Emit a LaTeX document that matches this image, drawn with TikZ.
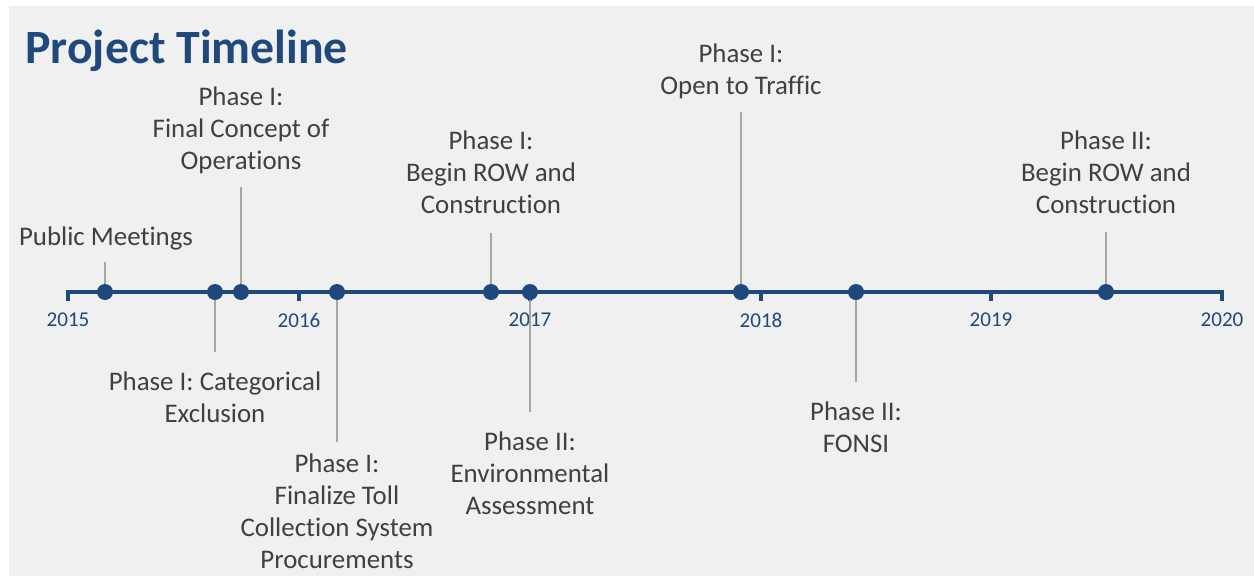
\documentclass[tikz,border=0pt]{standalone}
\usepackage{fontspec}
\setmainfont{Carlito}[Ligatures=NoCommon]
\usetikzlibrary{positioning}
\definecolor{tlblue}{HTML}{1F497D}
\definecolor{tltext}{HTML}{404040}
\definecolor{tlgrey}{HTML}{A6A6A6}
\definecolor{tlback}{HTML}{F0F0F0}
\tikzset{
	milestone/.style={circle, fill=tlblue, inner sep=0pt, minimum size=0.32cm},
	event/.style={align=center, inner sep=0pt, anchor=north, text=tltext, font=\fontsize{15.3}{18.3}\selectfont},
	yearlabel/.style={text=tlblue, font=\fontsize{12}{14}\selectfont},
	stem/.style={draw=tlgrey, line width=0.8pt},
}

\begin{document}
\begin{tikzpicture}[x=0.02cm, y=-0.02cm]
	\useasboundingbox (0,0) rectangle (1254,576);
	\fill[tlback] (9,6) rectangle (1254,576);
	
	\node[anchor=base west, inner sep=0pt, text=tlblue, font=\fontsize{27.2}{30}\selectfont\bfseries] (title) at (25,63) {Project Timeline};
	
	% axis and years
	\draw[tlblue, line width=2.3pt] (68,301) -- (68,292) -- (1222,292) -- (1222,301);
	\foreach \tx in {299,530,761,991}
		\draw[tlblue, line width=2.3pt] (\tx,292) -- (\tx,301);
	\foreach \tx/\yr in {68/2015, 299/2016, 530/2017, 761/2018, 991/2019, 1222/2020}
		\node[yearlabel] (year\yr) at (\tx,320) {\yr};
	
	% milestones
	\node[milestone] (meet) at (105,292) {};
	\node[milestone] (catex) at (215,292) {};
	\node[milestone] (conops) at (241,292) {};
	\node[milestone] (toll) at (337,292) {};
	\node[milestone] (rowone) at (491,292) {};
	\node[milestone] (envas) at (530,292) {};
	\node[milestone] (open) at (741,292) {};
	\node[milestone] (fonsi) at (856,292) {};
	\node[milestone] (rowtwo) at (1106,292) {};
	
	% stem ends
	\coordinate (meet-end) at (105,262);
	\coordinate (catex-end) at (215,352);
	\coordinate (conops-end) at (241,187);
	\coordinate (toll-end) at (337,442);
	\coordinate (rowone-end) at (491,233);
	\coordinate (envas-end) at (530,412);
	\coordinate (open-end) at (741,112);
	\coordinate (fonsi-end) at (856,382);
	\coordinate (rowtwo-end) at (1106,232);
	
	\foreach \m in {meet,catex,conops,toll,rowone,envas,open,fonsi,rowtwo}
		\draw[stem] (\m) -- (\m-end);
	
	% labels
	\node[event] (meet-label) at (106,226) {Public Meetings};
	\node[event] (catex-label) at (215,371) {Phase I: Categorical\\Exclusion};
	\node[event] (conops-label) at (241,86) {Phase I:\\Final Concept of\\Operations};
	\node[event] (toll-label) at (337,453) {Phase I:\\Finalize Toll\\Collection System\\Procurements};
	\node[event] (rowone-label) at (491,130) {Phase I:\\Begin ROW and\\Construction};
	\node[event] (envas-label) at (530,431) {Phase II:\\Environmental\\Assessment};
	\node[event] (open-label) at (741,43) {Phase I:\\Open to Traffic};
	\node[event] (fonsi-label) at (856,401) {Phase II:\\FONSI};
	\node[event] (rowtwo-label) at (1106,130) {Phase II:\\Begin ROW and\\Construction};
\end{tikzpicture}
\end{document}
